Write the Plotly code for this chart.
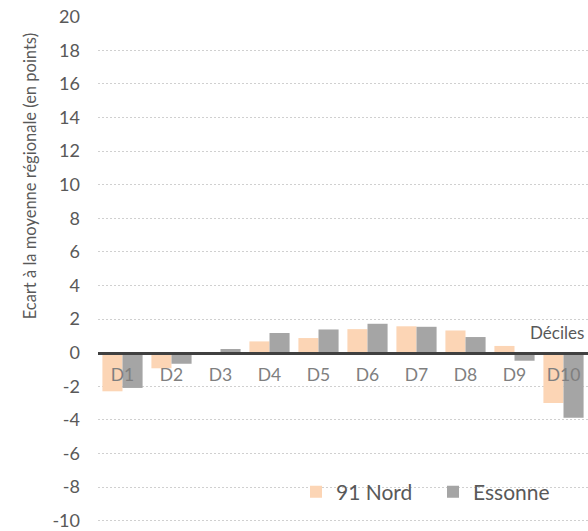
import plotly.graph_objects as go

categories = ["D1", "D2", "D3", "D4", "D5", "D6", "D7", "D8", "D9", "D10"]
nord_91 = [-2.3, -0.93, -0.1, 0.67, 0.87, 1.4, 1.57, 1.32, 0.4, -3.0]
essonne = [-2.1, -0.66, 0.22, 1.17, 1.38, 1.72, 1.54, 0.93, -0.48, -3.88]
y_ticks = list(range(-10, 21, 2))

FONT = "Lato"
W, H = 588, 531
Y_MIN, Y_MAX = -10.08, 20.04
# reference pixel positions of the plot area (extended slightly so edge gridlines show)
PL, PR, PT, PB = 98, 588, 16, 524
L, T = PL, PT
R = W - PR
B = H - PB
pw, ph = PR - PL, PB - PT

def px_x(x):
    return (x - PL) / pw

def px_y(y):
    return (PB - y) / ph

fig = go.Figure()
fig.add_trace(go.Bar(name="91 Nord", x=categories, y=nord_91,
                     marker=dict(color="#FCD5B5", line=dict(width=0))))
fig.add_trace(go.Bar(name="Essonne", x=categories, y=essonne,
                     marker=dict(color="#A5A5A5", line=dict(width=0))))

fig.update_layout(
    width=W, height=H,
    margin=dict(l=L, r=R, t=T, b=B, pad=0),
    paper_bgcolor="white", plot_bgcolor="white",
    barmode="group", bargap=0.18, bargroupgap=0,
    font=dict(family=FONT, color="#595959", size=17),
    showlegend=True,
    legend=dict(orientation="h", x=px_x(296), y=px_y(494), yanchor="middle",
                xanchor="left", bgcolor="rgba(0,0,0,0)",
                font=dict(size=21, color="#595959"),
                entrywidth=92, itemwidth=30, traceorder="normal"),
    xaxis=dict(type="category", anchor="free",
               position=(0 - Y_MIN) / (Y_MAX - Y_MIN),
               showline=True, linecolor="#404040", linewidth=3,
               showgrid=False, zeroline=False,
               ticks="outside", ticklen=4, tickcolor="rgba(0,0,0,0)",
               tickfont=dict(size=17.5, color="#7F7F7F"),
               ticklabelstandoff=1),
    yaxis=dict(range=[Y_MIN, Y_MAX], tickvals=y_ticks,
               ticktext=[str(v) for v in y_ticks],
               showgrid=True, gridcolor="#D0D0D0", griddash="2px,2px", gridwidth=1,
               zeroline=False, showline=False, ticks="",
               ticklabeloverflow="allow",
               tickfont=dict(size=18, color="#595959"),
               ticklabelstandoff=17),
    annotations=[
        dict(text="Ecart à la moyenne régionale (en points)", textangle=-90,
             xref="paper", yref="paper", x=px_x(30), y=px_y(177),
             xanchor="center", yanchor="middle", showarrow=False,
             font=dict(size=16.5, color="#595959")),
        dict(text="Déciles", xref="paper", yref="paper",
             x=px_x(528), y=px_y(334), xanchor="left", yanchor="middle",
             showarrow=False, font=dict(size=17, color="#595959")),
    ],
)

fig.write_html("out.html", config={"displayModeBar": False},
               post_script="document.body.style.margin='0';document.body.style.overflow='hidden';")
